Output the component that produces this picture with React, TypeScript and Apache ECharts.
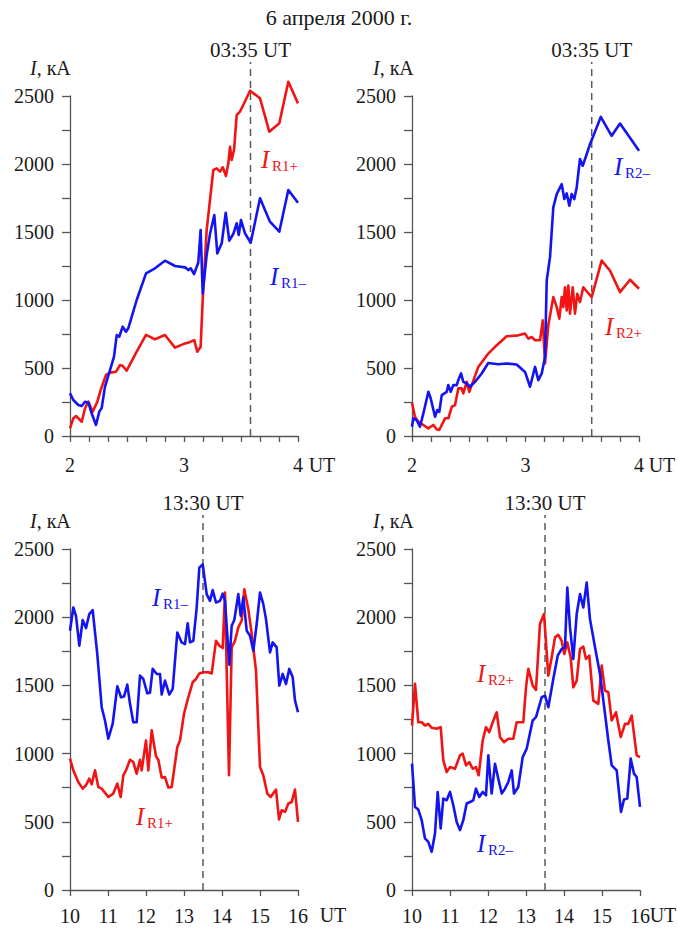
import React, { useEffect, useRef } from "react";
import * as echarts from "echarts";

type P = [number, number];

const titleText = "6 апреля 2000 г.";
const yUnitText = "кА";
const morningEvent = 3 + 35 / 60;
const eveningEvent = 13.5;
const morningEventLabel = "03:35 UT";
const eveningEventLabel = "13:30 UT";
const dashTop = 2750;

// Morning, I_R1- (kA) vs UT hours
const r1MinusMorning: P[] = [[2.0,314],[2.029,265],[2.073,228],[2.103,220],[2.132,252],[2.161,245],[2.19,167],[2.228,81],[2.257,179],[2.278,206],[2.307,363],[2.351,485],[2.386,583],[2.41,743],[2.432,730],[2.462,804],[2.491,767],[2.511,792],[2.585,1000],[2.667,1196],[2.746,1233],[2.833,1289],[2.921,1250],[3.009,1240],[3.038,1220],[3.059,1233],[3.088,1191],[3.125,1274],[3.146,1515],[3.164,1049],[3.199,1331],[3.228,1485],[3.266,1625],[3.292,1343],[3.331,1417],[3.366,1642],[3.397,1436],[3.432,1485],[3.462,1564],[3.48,1478],[3.5,1588],[3.535,1490],[3.585,1421],[3.667,1748],[3.754,1576],[3.836,1502],[3.915,1809],[4.0,1715]];
const r1PlusMorning: P[] = [[2.0,56],[2.029,130],[2.053,147],[2.103,105],[2.132,204],[2.161,252],[2.199,179],[2.24,252],[2.269,338],[2.316,449],[2.351,466],[2.404,473],[2.439,522],[2.462,515],[2.497,480],[2.585,620],[2.667,743],[2.746,711],[2.833,743],[2.921,650],[3.009,681],[3.05,690],[3.09,705],[3.116,620],[3.146,657],[3.164,1000],[3.199,1515],[3.257,1956],[3.287,1968],[3.316,1944],[3.34,1976],[3.368,1912],[3.389,2005],[3.404,2127],[3.418,2029],[3.439,2103],[3.462,2360],[3.491,2385],[3.52,2434],[3.579,2539],[3.667,2483],[3.748,2238],[3.836,2299],[3.915,2605],[4.0,2446]];
const r2MinusMorning: P[] = [[2.0,68],[2.011,130],[2.041,117],[2.07,68],[2.1,166],[2.144,325],[2.165,276],[2.203,141],[2.223,191],[2.241,178],[2.262,301],[2.306,325],[2.32,374],[2.341,325],[2.364,374],[2.394,374],[2.408,411],[2.432,460],[2.452,398],[2.482,386],[2.511,362],[2.555,398],[2.614,460],[2.672,537],[2.76,528],[2.834,533],[2.922,526],[2.996,471],[3.04,362],[3.084,508],[3.113,411],[3.143,460],[3.172,581],[3.187,1144],[3.216,1315],[3.245,1681],[3.275,1779],[3.319,1852],[3.342,1742],[3.363,1784],[3.386,1694],[3.407,1779],[3.43,1742],[3.451,1828],[3.48,2036],[3.504,1987],[3.539,2072],[3.568,2146],[3.592,2194],[3.663,2346],[3.759,2207],[3.833,2297],[4.0,2097]];
const r2PlusMorning: P[] = [[2.0,244],[2.026,141],[2.055,105],[2.1,81],[2.144,56],[2.188,81],[2.217,49],[2.24,44],[2.291,130],[2.32,130],[2.35,215],[2.379,227],[2.408,350],[2.438,350],[2.452,313],[2.482,398],[2.505,325],[2.526,374],[2.584,508],[2.672,606],[2.746,667],[2.834,733],[2.936,740],[2.996,753],[3.025,716],[3.055,728],[3.084,704],[3.128,704],[3.152,850],[3.172,533],[3.201,814],[3.245,1021],[3.275,948],[3.298,863],[3.319,1021],[3.333,948],[3.348,1094],[3.363,924],[3.377,1107],[3.392,900],[3.416,1094],[3.436,900],[3.456,1046],[3.48,985],[3.509,1094],[3.583,1021],[3.671,1290],[3.744,1217],[3.833,1058],[3.921,1149],[4.0,1083]];

// Evening
const r1MinusEvening: P[] = [[10.0,1901],[10.087,2071],[10.158,2010],[10.245,1791],[10.334,1979],[10.421,1920],[10.508,2023],[10.597,2052],[10.718,1730],[10.834,1340],[10.921,1243],[11.008,1109],[11.124,1219],[11.245,1494],[11.342,1413],[11.421,1418],[11.508,1506],[11.579,1365],[11.666,1230],[11.755,1230],[11.842,1572],[11.929,1547],[12.034,1442],[12.105,1447],[12.176,1621],[12.282,1584],[12.368,1584],[12.413,1433],[12.5,1535],[12.613,1433],[12.703,1474],[12.824,1888],[12.939,1815],[13.026,1803],[13.097,1955],[13.158,1815],[13.245,1827],[13.334,2071],[13.403,2363],[13.492,2387],[13.597,2169],[13.684,2120],[13.755,2198],[13.842,2108],[13.947,2120],[14.018,2173],[14.079,2120],[14.192,1652],[14.255,1937],[14.324,1979],[14.429,2169],[14.492,2010],[14.561,2144],[14.65,1901],[14.737,1864],[14.824,1754],[14.913,1950],[15.0,2181],[15.087,2096],[15.158,1986],[15.263,1742],[15.334,1815],[15.439,1779],[15.508,1499],[15.597,1584],[15.684,1510],[15.771,1621],[15.861,1559],[15.921,1389],[16.0,1303]];
const r1PlusEvening: P[] = [[10.0,963],[10.087,877],[10.218,792],[10.334,743],[10.421,768],[10.508,816],[10.571,775],[10.658,877],[10.745,755],[10.834,743],[11.008,682],[11.139,707],[11.245,780],[11.334,682],[11.403,841],[11.474,877],[11.579,955],[11.666,938],[11.755,853],[11.842,955],[11.887,877],[12.0,1096],[12.061,877],[12.15,1170],[12.263,980],[12.324,955],[12.413,824],[12.5,828],[12.587,751],[12.676,755],[12.824,1048],[12.895,1096],[13.0,1292],[13.113,1413],[13.229,1523],[13.316,1547],[13.403,1588],[13.508,1596],[13.639,1596],[13.729,1588],[13.842,1827],[13.929,1791],[14.018,1774],[14.079,2181],[14.184,841],[14.255,1779],[14.342,1827],[14.429,1925],[14.518,1974],[14.587,2205],[14.692,2059],[14.782,1877],[14.895,1608],[15.0,901],[15.087,841],[15.192,707],[15.282,682],[15.421,736],[15.5,517],[15.571,585],[15.658,572],[15.745,634],[15.834,645],[15.921,736],[16.0,499]];
const r2PlusEvening: P[] = [[10.0,1206],[10.079,1511],[10.166,1230],[10.255,1230],[10.342,1206],[10.429,1218],[10.518,1189],[10.65,1182],[10.755,1194],[10.824,950],[10.913,865],[11.0,901],[11.132,889],[11.263,987],[11.334,999],[11.421,914],[11.508,938],[11.597,889],[11.684,901],[11.755,841],[11.861,1096],[11.947,1194],[12.034,1157],[12.124,1230],[12.229,1303],[12.316,1121],[12.421,1084],[12.534,1109],[12.666,1109],[12.755,1230],[12.929,1230],[13.0,1486],[13.061,1621],[13.176,1499],[13.263,1467],[13.368,1950],[13.474,2023],[13.587,1572],[13.676,1705],[13.763,1852],[13.85,1871],[13.939,1827],[14.008,1730],[14.087,1815],[14.176,1705],[14.245,1486],[14.334,1535],[14.421,1767],[14.508,1784],[14.579,1694],[14.666,1718],[14.771,1389],[14.903,1365],[14.992,1645],[15.079,1462],[15.166,1450],[15.255,1243],[15.368,1303],[15.492,1121],[15.605,1218],[15.692,1218],[15.782,1279],[15.913,987],[16.0,974]];
const r2MinusEvening: P[] = [[10.0,926],[10.079,609],[10.166,590],[10.255,512],[10.342,378],[10.429,353],[10.518,280],[10.605,414],[10.676,719],[10.755,451],[10.824,670],[10.913,658],[11.0,719],[11.087,621],[11.176,499],[11.263,439],[11.35,512],[11.439,634],[11.526,645],[11.613,658],[11.684,743],[11.771,682],[11.861,719],[11.947,694],[12.008,987],[12.097,707],[12.184,926],[12.271,816],[12.361,707],[12.447,743],[12.534,792],[12.624,877],[12.684,707],[12.797,755],[12.913,974],[13.018,1036],[13.105,1150],[13.176,1243],[13.263,1267],[13.413,1413],[13.5,1425],[13.587,1340],[13.718,1547],[13.834,1718],[13.939,1767],[14.026,1779],[14.087,2217],[14.158,1925],[14.245,1694],[14.334,2023],[14.421,2169],[14.508,2071],[14.597,2254],[14.684,1986],[14.816,1779],[14.947,1584],[15.079,1292],[15.166,1096],[15.255,914],[15.387,877],[15.5,572],[15.579,663],[15.666,670],[15.755,963],[15.842,853],[15.913,828],[16.0,609]];

const RED = "#f01414";
const BLUE = "#1414f0";
const AX = "#555555";
const TXT = "#1a1a1a";
const FONT = "Liberation Serif";

interface Panel {
  grid: { left: number; top: number; width: number; height: number };
  xMin: number; xMax: number; minor: number; labelMargin: number;
  event: number; eventLabel: string;
  red: P[]; blue: P[];
  redSub: string; blueSub: string;
  redPos: [number, number]; bluePos: [number, number];
  unitPos: [number, number]; utPos: [number, number]; eventY: number;
}

const panels: Panel[] = [
  { grid: { left: 70, top: 96, width: 228, height: 340 }, xMin: 2, xMax: 4, minor: 6, labelMargin: 19,
    event: morningEvent, eventLabel: morningEventLabel, red: r1PlusMorning, blue: r1MinusMorning,
    redSub: "R1+", blueSub: "R1–", redPos: [261, 159], bluePos: [270, 276], unitPos: [30, 68], utPos: [322, 465], eventY: 50 },
  { grid: { left: 412, top: 96, width: 227, height: 340 }, xMin: 2, xMax: 4, minor: 6, labelMargin: 19,
    event: morningEvent, eventLabel: morningEventLabel, red: r2PlusMorning, blue: r2MinusMorning,
    redSub: "R2+", blueSub: "R2–", redPos: [605, 326], bluePos: [614, 166], unitPos: [373, 68], utPos: [662, 465], eventY: 50 },
  { grid: { left: 70, top: 549, width: 228, height: 341 }, xMin: 10, xMax: 16, minor: 0, labelMargin: 16,
    event: eveningEvent, eventLabel: eveningEventLabel, red: r1PlusEvening, blue: r1MinusEvening,
    redSub: "R1+", blueSub: "R1–", redPos: [136, 816], bluePos: [152, 597], unitPos: [30, 521], utPos: [333, 915], eventY: 503 },
  { grid: { left: 412, top: 549, width: 228, height: 341 }, xMin: 10, xMax: 16, minor: 0, labelMargin: 16,
    event: eveningEvent, eventLabel: eveningEventLabel, red: r2PlusEvening, blue: r2MinusEvening,
    redSub: "R2+", blueSub: "R2–", redPos: [477, 673], bluePos: [477, 843], unitPos: [373, 521], utPos: [663, 915], eventY: 503 },
];

function seriesLabel(pos: [number, number], sub: string, color: string) {
  return {
    type: "group",
    x: pos[0],
    y: pos[1],
    children: [
      { type: "text", x: 0, y: 0, style: { text: "I", fontFamily: FONT, fontStyle: "italic", fontSize: 25, fill: color, textVerticalAlign: "middle" } },
      { type: "text", x: 11, y: 7, style: { text: sub, fontFamily: FONT, fontSize: 15, fill: color, textVerticalAlign: "middle" } },
    ],
  };
}

export default function App() {
  const ref = useRef<HTMLDivElement>(null);
  useEffect(() => {
    if (!ref.current) return;
    const chart = echarts.init(ref.current, undefined, { renderer: "svg" });
    const lineAx = { color: AX, width: 1.3 };
    const txt = (text: string, x: number, y: number, size: number, align = "center", extra: any = {}) => ({
      type: "text", x, y,
      style: { text, fontFamily: FONT, fontSize: size, fill: TXT, textAlign: align, textVerticalAlign: "middle", ...extra },
    });
    const option: any = {
      animation: false,
      backgroundColor: "#ffffff",
      textStyle: { fontFamily: FONT },
      grid: panels.map((p) => ({ ...p.grid, containLabel: false })),
      xAxis: panels.map((p, i) => ({
        gridIndex: i, type: "value", min: p.xMin, max: p.xMax, interval: 1,
        axisLine: { show: true, onZero: false, lineStyle: lineAx },
        axisTick: { show: true, inside: false, length: 6, lineStyle: lineAx },
        minorTick: p.minor ? { show: true, splitNumber: p.minor, length: 6, lineStyle: lineAx } : { show: false },
        axisLabel: { margin: p.labelMargin, fontFamily: FONT, fontSize: 20, color: TXT },
        splitLine: { show: false },
      })),
      yAxis: panels.map((p, i) => ({
        gridIndex: i, type: "value", min: 0, max: 2500, interval: 250,
        axisLine: { show: true, onZero: false, lineStyle: lineAx },
        axisTick: { show: true, inside: false, length: 8, lineStyle: lineAx },
        axisLabel: { margin: 16, fontFamily: FONT, fontSize: 20, color: TXT,
          formatter: (v: number) => (v % 500 === 0 ? String(v) : "") },
        splitLine: { show: false },
      })),
      series: panels.flatMap((p, i) => [
        { type: "line", xAxisIndex: i, yAxisIndex: i, data: [[p.event, 0], [p.event, dashTop]], symbol: "none", clip: false, silent: true,
          lineStyle: { color: "#5a5a5a", width: 1.5, type: [7, 5] }, z: 1 },
        { type: "line", xAxisIndex: i, yAxisIndex: i, data: p.blue, symbol: "none", clip: false,
          lineStyle: { color: BLUE, width: 2.6, join: "round" }, z: 3 },
        { type: "line", xAxisIndex: i, yAxisIndex: i, data: p.red, symbol: "none", clip: false,
          lineStyle: { color: RED, width: 2.6, join: "round" }, z: 2 },
      ]),
      graphic: [
        txt(titleText, 339, 17, 22),
        ...panels.flatMap((p) => {
          const evX = p.grid.left + ((p.event - p.xMin) / (p.xMax - p.xMin)) * p.grid.width;
          return [
            txt(p.eventLabel, evX, p.eventY, 21),
            txt(`{i|I}, ${yUnitText}`, p.unitPos[0], p.unitPos[1], 20, "left", {
              rich: { i: { fontStyle: "italic", fontFamily: FONT, fontSize: 20, fill: TXT } } }),
            txt("UT", p.utPos[0], p.utPos[1], 20),
            seriesLabel(p.redPos, p.redSub, RED),
            seriesLabel(p.bluePos, p.blueSub, BLUE),
          ];
        }),
      ],
    };
    chart.setOption(option);
    return () => chart.dispose();
  }, []);
  return <div ref={ref} style={{ position: "absolute", left: 0, top: 0, width: 678, height: 928, background: "#fff" }} />;
}
